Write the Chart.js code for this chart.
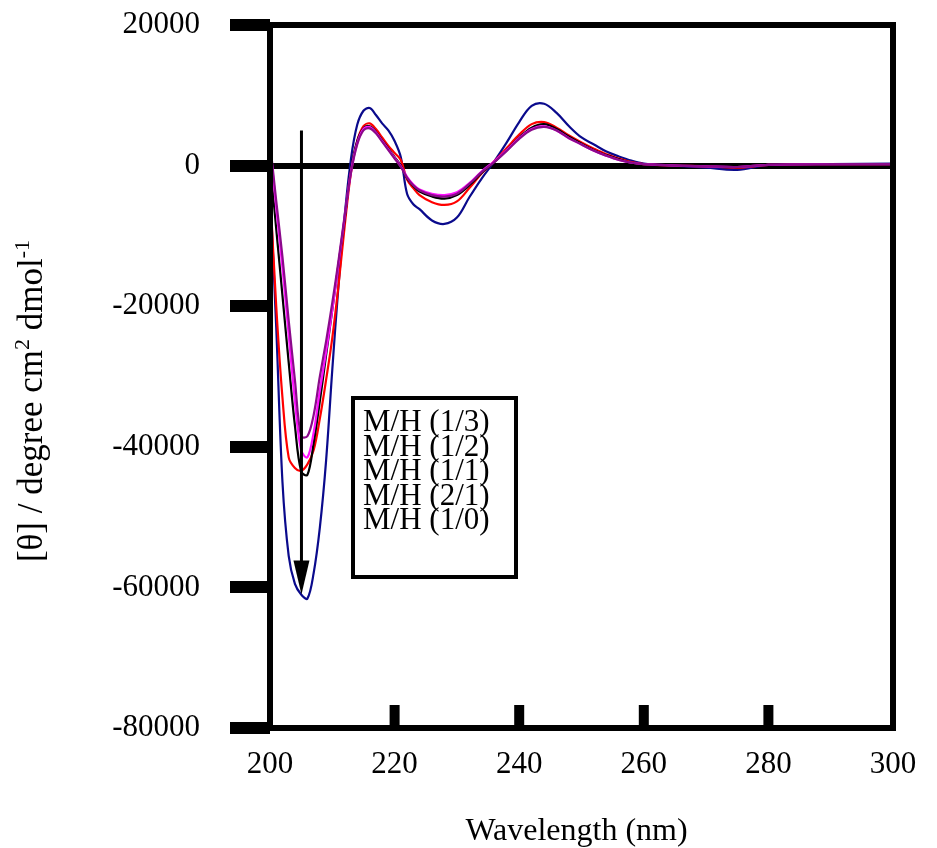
<!DOCTYPE html>
<html>
<head>
<meta charset="utf-8">
<script src="https://cdn.jsdelivr.net/npm/chart.js@4/dist/chart.umd.min.js"></script>
<style>
  html, body { margin: 0; padding: 0; background: #ffffff; }
  #wrap { width: 937px; height: 848px; }
</style>
</head>
<body>
<div id="wrap"><canvas id="cdChart" width="937" height="848"></canvas></div>
<script>
// wavelengths (nm) shared by all five spectra
const wavelengths = [200, 201, 202, 203, 204, 205, 206, 207, 208, 209, 210, 211, 212, 213, 214, 215, 216, 217, 218, 219, 220, 221, 222, 223, 224,
  226, 228, 230, 232, 234, 236, 238, 240, 242, 244, 246, 248, 250, 252, 254, 256, 258, 260,
  265, 270, 275, 280, 290, 300];

// [θ] values, one array per M/H ratio
const mh13 = [3300, -5000, -13000, -22000, -30500, -38500, -38500, -35500, -30000, -25000, -19500, -13500, -7000, -1000, 3000, 5000, 5300, 4600, 3400, 2200, 1000, -200, -1700, -2800, -3500,
  -4200, -4400, -4000, -2600, -900, 500, 2100, 3800, 5100, 5500, 5000, 3900, 3000, 2100, 1400, 800, 400, 200,
  0, -100, -200, 100, 200, 200];
const mh12 = [3000, -6000, -14500, -24000, -33500, -40500, -41500, -38000, -32000, -26500, -20500, -14000, -7200, -800, 3200, 5200, 5500, 4700, 3500, 2300, 1100, -100, -1600, -2700, -3400,
  -4000, -4200, -3800, -2500, -800, 600, 2200, 3900, 5200, 5600, 5000, 3900, 3000, 2100, 1400, 800, 400, 200,
  0, -100, -200, 100, 200, 200];
const mh11 = [500, -9000, -18500, -28000, -37000, -43500, -44000, -39500, -33500, -27000, -20500, -14000, -7500, -500, 3500, 5300, 5600, 4800, 3600, 2400, 1200, 0, -1800, -2900, -3700,
  -4400, -4700, -4200, -2800, -1000, 500, 2200, 4000, 5400, 5900, 5200, 4100, 3100, 2200, 1500, 900, 400, 200,
  0, -100, -200, 100, 200, 200];
const mh21 = [-3400, -20000, -33000, -41500, -43000, -43400, -42500, -40500, -36000, -30500, -24500, -17000, -8500, -1000, 3500, 5600, 6000, 5200, 4000, 2800, 1800, 800, -2000, -3200, -4200,
  -5200, -5600, -5100, -3200, -1100, 600, 2500, 4400, 5900, 6200, 5400, 4300, 3300, 2400, 1600, 1000, 500, 200,
  0, -100, -300, 100, 200, 200];
const mh10 = [-3000, -23000, -45000, -55500, -59500, -61000, -61600, -58000, -51500, -42000, -29000, -17000, -7000, 1000, 5800, 7800, 8200, 7200, 6000, 5000, 3500, 1200, -4000, -5500, -6200,
  -7800, -8300, -7400, -4500, -1800, 600, 3300, 6200, 8500, 8800, 7500, 5600, 4000, 3000, 2000, 1300, 700, 300,
  0, -300, -600, 100, 200, 300];

const seriesLabels = ['M/H (1/3)', 'M/H (1/2)', 'M/H (1/1)', 'M/H (2/1)', 'M/H (1/0)'];
const seriesValues = [mh13, mh12, mh11, mh21, mh10];
const seriesColors = ['#8b0a8b', '#ff10ff', '#000000', '#ff0000', '#0a0a8c'];

// axis ticks
const xTicks = [200, 220, 240, 260, 280, 300];
const yTicks = [20000, 0, -20000, -40000, -60000, -80000];

// arrow: wavelength, start and end value
const arrowWl = 205.05;
const arrowFrom = 5000;
const arrowTo = -61000;

const serif = '"Liberation Serif", "Times New Roman", Times, serif';

const decor = {
  id: 'decor',
  afterDatasetsDraw(chart) {
    const ctx = chart.ctx, a = chart.chartArea;
    const xs = chart.scales.x, ys = chart.scales.y;
    ctx.save();
    // inner ticks on x axis
    ctx.fillStyle = '#000';
    xTicks.slice(1, -1).forEach(v => {
      const px = xs.getPixelForValue(v);
      ctx.fillRect(px - 5, a.bottom - 23, 10, 23);
    });
    // frame
    ctx.strokeStyle = '#000';
    ctx.lineWidth = 6;
    ctx.strokeRect(a.left, a.top, a.right - a.left, a.bottom - a.top);

    // arrow
    const ax = xs.getPixelForValue(arrowWl);
    const y1 = ys.getPixelForValue(arrowFrom), y2 = ys.getPixelForValue(arrowTo);
    ctx.lineWidth = 3;
    ctx.beginPath();
    ctx.moveTo(ax, y1);
    ctx.lineTo(ax, y2 - 30);
    ctx.stroke();
    ctx.beginPath();
    ctx.moveTo(ax, y2);
    ctx.lineTo(ax - 8, y2 - 34);
    ctx.lineTo(ax + 8, y2 - 34);
    ctx.closePath();
    ctx.fill();

    // legend box (text only)
    const bx = a.left + 83, by = a.top + 373, bw = 163, bh = 179;
    ctx.fillStyle = '#fff';
    ctx.fillRect(bx, by, bw, bh);
    ctx.lineWidth = 4;
    ctx.strokeRect(bx, by, bw, bh);
    ctx.fillStyle = '#000';
    ctx.font = '31px ' + serif;
    ctx.textAlign = 'left';
    ctx.textBaseline = 'alphabetic';
    chart.data.datasets.forEach((d, i) => {
      ctx.fillText(d.label, bx + 10, by + 33 + i * 24.5);
    });

    // x axis title
    ctx.font = '32px ' + serif;
    ctx.textAlign = 'center';
    ctx.fillText('Wavelength (nm)', (a.left + a.right) / 2 - 5, 840);

    // y axis title with superscripts
    const parts = [['[θ] / degree cm', 35, 0], ['2', 22, -13], [' dmol', 35, 0], ['-1', 22, -13]];
    let total = 0;
    parts.forEach(p => { ctx.font = p[1] + 'px ' + serif; total += ctx.measureText(p[0]).width; });
    ctx.translate(42, 401);
    ctx.rotate(-Math.PI / 2);
    ctx.textAlign = 'left';
    let cx = -total / 2;
    parts.forEach(p => {
      ctx.font = p[1] + 'px ' + serif;
      ctx.fillText(p[0], cx, p[2]);
      cx += ctx.measureText(p[0]).width;
    });
    ctx.restore();
  }
};

new Chart(document.getElementById('cdChart').getContext('2d'), {
  type: 'line',
  data: {
    datasets: seriesLabels.map((lab, i) => ({
      label: lab,
      data: wavelengths.map((w, j) => ({ x: w, y: seriesValues[i][j] })),
      borderColor: seriesColors[i],
      borderWidth: 2.2,
      pointRadius: 0,
      tension: 0.35,
      fill: false
    }))
  },
  options: {
    responsive: false,
    animation: false,
    layout: { padding: { left: 0, top: 25, right: 44, bottom: 0 } },
    plugins: { legend: { display: false }, tooltip: { enabled: false } },
    scales: {
      x: {
        type: 'linear', min: 200, max: 300,
        afterFit: s => { s.height = 120; s.paddingLeft = 0; s.paddingRight = 0; },
        afterBuildTicks: s => { s.ticks = xTicks.map(v => ({ value: v })); },
        border: { display: false },
        grid: { display: false },
        ticks: { color: '#000', padding: 10, maxRotation: 0, font: { family: serif, size: 31 } }
      },
      y: {
        min: -80000, max: 20000,
        afterFit: s => { s.width = 270; s.paddingTop = 0; s.paddingBottom = 0; },
        afterBuildTicks: s => { s.ticks = yTicks.map(v => ({ value: v })); },
        border: { display: false },
        grid: {
          drawOnChartArea: true,
          color: c => (c.tick && c.tick.value === 0 ? '#000' : 'rgba(0,0,0,0)'),
          lineWidth: 6,
          tickColor: '#000',
          tickWidth: 12,
          tickLength: 40
        },
        ticks: { color: '#000', padding: 30, callback: v => String(v), font: { family: serif, size: 31 } }
      }
    }
  },
  plugins: [decor]
});
</script>
</body>
</html>
